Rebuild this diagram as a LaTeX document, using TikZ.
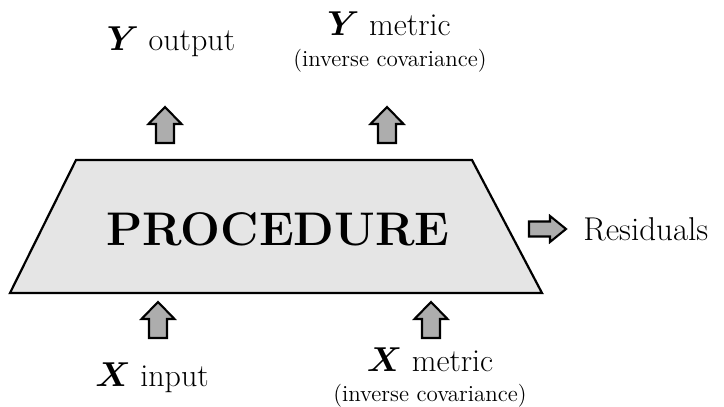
\documentclass[tikz,border=0pt]{standalone}
\usepackage{amsmath,bm}
\definecolor{procfill}{gray}{0.9}
\definecolor{arrowfill}{gray}{0.68}
\begin{document}
\begin{tikzpicture}[x=0.5pt,y=-0.5pt,
  proc/.style={draw=black,line width=1.1pt,fill=procfill,line join=miter},
  blk/.style={draw=black,line width=1.05pt,fill=arrowfill,line join=miter},
  lab/.style={inner sep=0pt,anchor=base,font=\fontsize{16}{18}\selectfont},
  sub/.style={inner sep=0pt,anchor=base,font=\fontsize{11.5}{13}\selectfont}]
\useasboundingbox (0,0) rectangle (724,407);
% procedure trapezoid
\coordinate (tl) at (76,160);
\coordinate (tr) at (472,160);
\coordinate (br) at (542,293);
\coordinate (bl) at (10,293);
\path[proc] (tl) -- (tr) -- (br) -- (bl) -- cycle;
\node[inner sep=0pt,font=\fontsize{23.6}{26}\selectfont\bfseries] (proc) at (278,229) {PROCEDURE};
% block arrows (up)
\foreach \nm/\cx/\by in {ya/165/143, yb/387/143, xa/158/338, xb/431/338}{
  \path[blk,shift={(\cx,\by)}] (-9,0) -- (-9,-19) -- (-16.5,-19) -- (0,-36) -- (16.5,-19) -- (9,-19) -- (9,0) -- cycle;
}
% block arrow (right)
\path[blk,shift={(529,229)}] (0,-7.5) -- (21,-7.5) -- (21,-13) -- (37,0) -- (21,13) -- (21,7.5) -- (0,7.5) -- cycle;
% labels
\node[lab] (yout) at (171,50) {$\boldsymbol{Y}$ output};
\node[lab] (ymet) at (389,35) {$\boldsymbol{Y}$ metric};
\node[sub] (ycov) at (390,66) {(inverse covariance)};
\node[lab] (xin) at (152,386) {$\boldsymbol{X}$ input};
\node[lab] (xmet) at (430,371) {$\boldsymbol{X}$ metric};
\node[sub] (xcov) at (430,401) {(inverse covariance)};
\node[inner sep=0pt,anchor=west,font=\fontsize{16.5}{18}\selectfont] (res) at (583,229) {Residuals};
\end{tikzpicture}
\end{document}
